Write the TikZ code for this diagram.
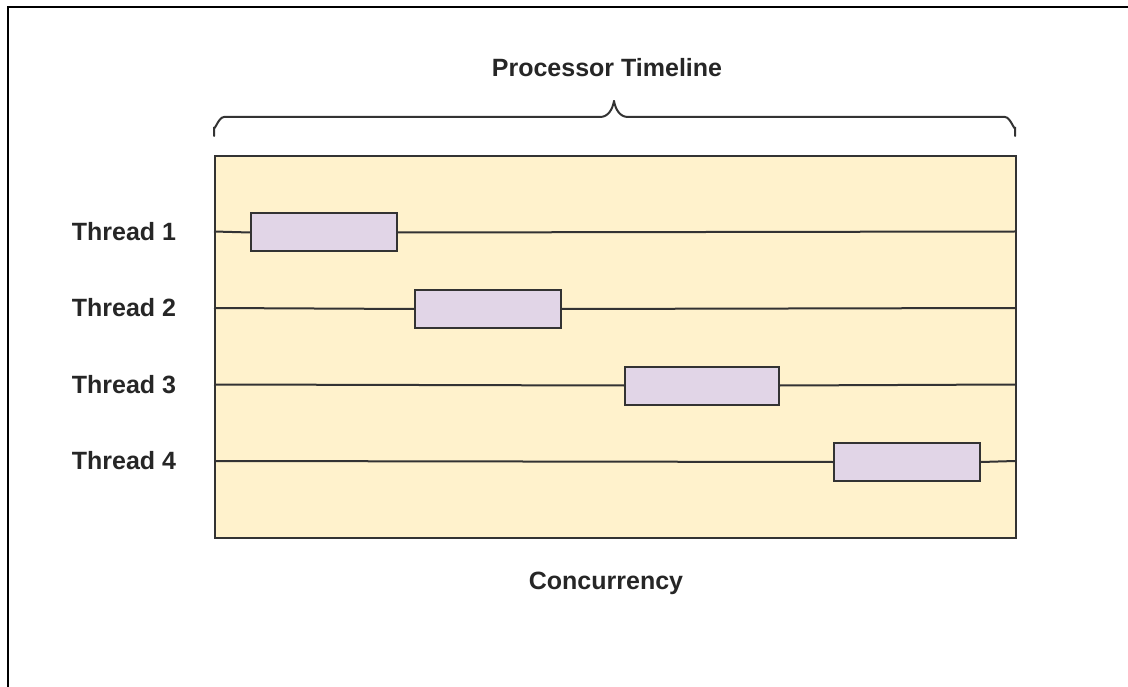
\documentclass[tikz,border=0pt]{standalone}
\usepackage{fontspec}
\setmainfont{Liberation Sans}
\begin{document}
\begin{tikzpicture}[x=1pt,y=-1pt,
  every node/.style={font=\fontsize{25}{28}\selectfont\bfseries, text=black!85},
  edge/.style={draw=black!80, line width=2pt},
  task/.style={draw=black!80, line width=2pt, fill=taskc, minimum width=146pt, minimum height=38pt, inner sep=0pt, anchor=north west},
]
\definecolor{taskc}{HTML}{E1D5E7}
\definecolor{bgc}{HTML}{FFF2CC}
\useasboundingbox (0,0) rectangle (1128,687);
% frame
\draw[black, line width=2.5pt] (8,687) -- (8,7) -- (1128,7);
% timeline area
\node[draw=black!80, line width=2pt, fill=bgc, minimum width=801pt, minimum height=382pt, inner sep=0pt, anchor=north west] (area) at (214,155) {};
% brace
\coordinate (bl) at (214,136);
\coordinate (br) at (1015,136);
\coordinate (tip) at (614,101);
\draw[edge, line cap=round] (bl) -- (214,127) to[out=-90,in=180] (224,117) -- (600,117) to[out=0,in=-100] (tip);
\draw[edge, line cap=round] (br) -- (1015,127) to[out=-90,in=0] (1005,117) -- (628,117) to[out=180,in=-80] (tip);
\node (title) at (607,68) {Processor Timeline};
\node (conc) at (606,583) {Concurrency};
% thread lines
\foreach \i/\y in {1/231.5, 2/308, 3/384.5, 4/461}{
  \coordinate (l\i) at (214,\y);
  \coordinate (r\i) at (1015,\y);
  \node (lab\i) at (124,\y) {Thread \i};
}
\node[task] (t1) at (250,212.5) {};
\node[task] (t2) at (414,289) {};
\node[task, minimum width=154pt] (t3) at (624,365.5) {};
\node[task] (t4) at (833,442) {};
\draw[edge] (l1) -- (t1.west) (t1.east) -- (r1);
\draw[edge] (l2) -- (t2.west) (t2.east) -- (r2);
\draw[edge] (l3) -- (t3.west) (t3.east) -- (r3);
\draw[edge] (l4) -- (t4.west) (t4.east) -- (r4);
\end{tikzpicture}
\end{document}
